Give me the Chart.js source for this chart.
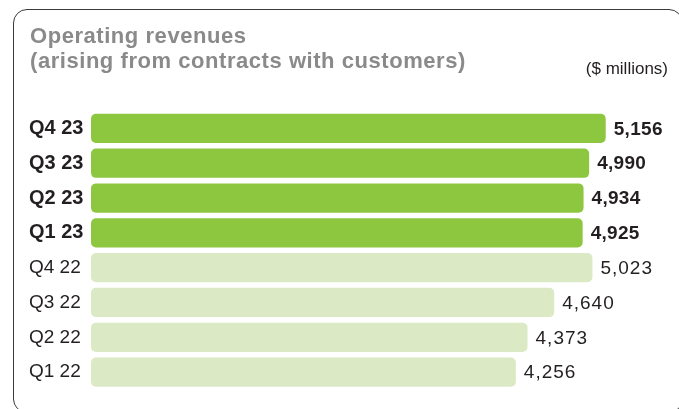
<!DOCTYPE html>
<html><head><meta charset="utf-8">
<script src="https://cdn.jsdelivr.net/npm/chart.js@4.4.1/dist/chart.umd.min.js"></script>
<style>
html,body{margin:0;padding:0;background:#fff;overflow:hidden;width:679px;height:409px;}
#frame{position:absolute;left:13px;top:9px;width:670px;height:404px;border:1.4px solid #3a3a3a;border-radius:14px;box-sizing:border-box;}
#wrap{position:absolute;left:0;top:0;width:679px;height:409px;}
</style></head><body>
<div id="frame"></div>
<div id="wrap"><canvas id="c" width="679" height="409"></canvas></div>
<script>
const categories = ['Q4 23','Q3 23','Q2 23','Q1 23','Q4 22','Q3 22','Q2 22','Q1 22'];
const revenues = [5156, 4990, 4934, 4925, 5023, 4640, 4373, 4256];
const currentYear = [true, true, true, true, false, false, false, false];
const titleLines = ['Operating revenues', '(arising from contracts with customers)'];
const unitLabel = '($ millions)';

const FONT = '"Liberation Sans", Arial, Helvetica, sans-serif';
const fmt = v => v.toLocaleString('en-US');

const overlayText = {
  id: 'overlayText',
  afterDatasetsDraw(chart) {
    const ctx = chart.ctx;
    const meta = chart.getDatasetMeta(0);
    ctx.save();
    ctx.fillStyle = '#231f20';
    ctx.textBaseline = 'middle';
    ctx.textAlign = 'left';
    meta.data.forEach((bar, i) => {
      ctx.font = (currentYear[i] ? 'bold ' : '') + '19px ' + FONT;
      ctx.letterSpacing = currentYear[i] ? '0.3px' : '1px';
      ctx.fillText(fmt(revenues[i]), bar.x + 8, bar.y + 1);
    });
    ctx.restore();
  },
  afterDraw(chart) {
    const ctx = chart.ctx;
    ctx.save();
    ctx.textBaseline = 'alphabetic';
    ctx.textAlign = 'left';
    ctx.fillStyle = '#8a8a8a';
    ctx.font = 'bold 22px ' + FONT;
    ctx.letterSpacing = '0.55px';
    titleLines.forEach((t, i) => ctx.fillText(t, 30, 42.5 + i * 25));
    ctx.letterSpacing = '0px';
    ctx.fillStyle = '#231f20';
    ctx.font = '17px ' + FONT;
    ctx.textAlign = 'right';
    ctx.fillText(unitLabel, 668, 74);
    ctx.restore();
  }
};

new Chart(document.getElementById('c'), {
  type: 'bar',
  data: {
    labels: categories,
    datasets: [{
      data: revenues,
      backgroundColor: c => currentYear[c.dataIndex] ? '#8dc63f' : '#dbeac5',
      borderRadius: 5,
      borderSkipped: false,
      categoryPercentage: 1,
      barPercentage: 0.842
    }]
  },
  options: {
    indexAxis: 'y',
    responsive: false,
    animation: false,
    devicePixelRatio: 1,
    layout: { padding: { left: 29, top: 111, bottom: 19.5, right: 9 } },
    plugins: { legend: { display: false }, tooltip: { enabled: false } },
    scales: {
      x: { display: false, min: 0, max: 5800 },
      y: {
        grid: { display: false },
        border: { display: false },
        afterFit: s => { s.width = 62; },
        ticks: {
          crossAlign: 'far',
          padding: 0,
          color: '#231f20',
          font: c => ({ family: FONT, size: currentYear[c.index] ? 20 : 19, weight: currentYear[c.index] ? 'bold' : 'normal' })
        }
      }
    }
  },
  plugins: [overlayText]
});
</script>
</body></html>
